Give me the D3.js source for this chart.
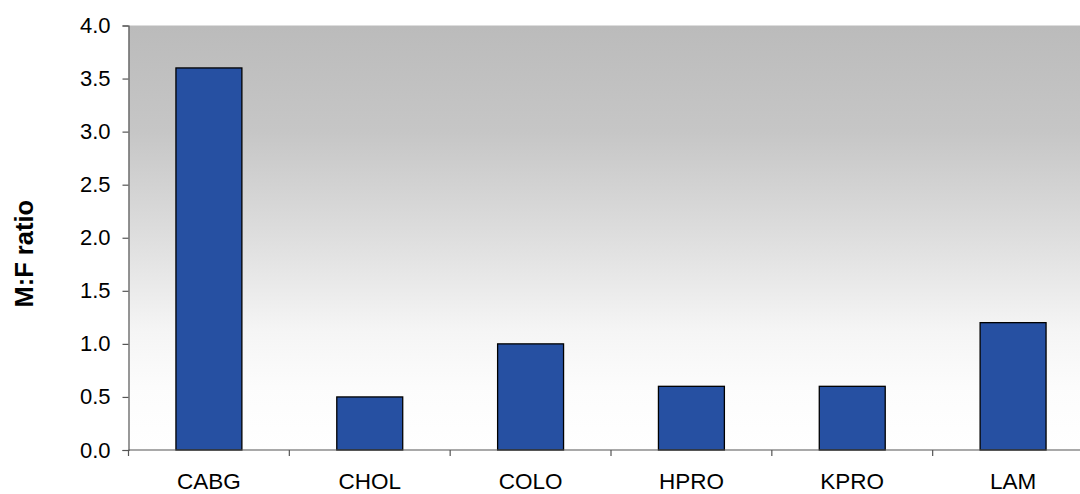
<!DOCTYPE html>
<html>
<head>
<meta charset="utf-8">
<script src="https://cdn.jsdelivr.net/npm/d3@7"></script>
<style>
  html, body { margin: 0; padding: 0; background: #ffffff; }
  svg { display: block; font-family: "Liberation Sans", Arial, sans-serif; }
</style>
</head>
<body>
<svg id="chart" width="1080" height="494"></svg>
<script>
// Procedures and their male:female ratios
const categories = ["CABG", "CHOL", "COLO", "HPRO", "KPRO", "LAM"];
const ratios = [3.6, 0.5, 1.0, 0.6, 0.6, 1.2];
const yTicks = [0, 0.5, 1.0, 1.5, 2.0, 2.5, 3.0, 3.5, 4.0];
const yTitle = "M:F ratio";

const svg = d3.select("#chart");
const margin = { left: 128.5, top: 25.5, bottom: 44 };
const plotWidth = 965;            // plot runs past the right edge of the page
const plotBottom = 494 - margin.bottom;

const x = d3.scaleBand()
  .domain(categories)
  .range([margin.left, margin.left + plotWidth])
  .paddingInner(0.59)
  .paddingOuter(0.295);

const y = d3.scaleLinear()
  .domain([0, 4])
  .range([plotBottom, margin.top]);

// Vertical grey-to-white fill behind the bars
const defs = svg.append("defs");
const grad = defs.append("linearGradient")
  .attr("id", "plotFill")
  .attr("x1", 0).attr("y1", 0).attr("x2", 0).attr("y2", 1);
[[0, "#bbbbbb"], [0.25, "#c6c6c6"], [0.5, "#dedede"], [0.72, "#f5f5f5"], [0.85, "#fcfcfc"], [1, "#ffffff"]]
  .forEach(([o, c]) => grad.append("stop").attr("offset", o).attr("stop-color", c));

svg.append("rect")
  .attr("x", margin.left)
  .attr("y", y(4))
  .attr("width", plotWidth)
  .attr("height", y(0) - y(4))
  .attr("fill", "url(#plotFill)");

// Bars
svg.append("g")
  .selectAll("rect")
  .data(categories.map((c, i) => ({ c, v: ratios[i] })))
  .join("rect")
  .attr("x", d => x(d.c))
  .attr("y", d => y(d.v))
  .attr("width", x.bandwidth())
  .attr("height", d => y(0) - y(d.v))
  .attr("fill", "#2650a2")
  .attr("stroke", "#000000")
  .attr("stroke-width", 1.3);

// Y axis
const yAxis = svg.append("g")
  .attr("transform", `translate(${margin.left},0)`)
  .call(d3.axisLeft(y).tickValues(yTicks).tickFormat(d3.format(".1f")).tickSize(6).tickPadding(12));
yAxis.select(".domain").attr("stroke", "#555555").attr("stroke-width", 1.2);
yAxis.selectAll(".tick line").attr("stroke", "#555555").attr("stroke-width", 1.2);
yAxis.selectAll(".tick text")
  .attr("font-size", 22)
  .attr("font-family", "Liberation Sans, Arial, sans-serif")
  .attr("fill", "#000000");

// X axis: ticks sit on the category boundaries
const xAxisG = svg.append("g").attr("transform", `translate(0,${plotBottom})`);
xAxisG.append("line")
  .attr("x1", margin.left).attr("x2", margin.left + plotWidth)
  .attr("y1", 0).attr("y2", 0)
  .attr("stroke", "#555555").attr("stroke-width", 1.2);
const step = x.step();
const boundaries = d3.range(categories.length + 1).map(i => margin.left + i * step);
xAxisG.selectAll("line.tick")
  .data(boundaries)
  .join("line")
  .attr("class", "tick")
  .attr("x1", d => d).attr("x2", d => d)
  .attr("y1", 0).attr("y2", 6)
  .attr("stroke", "#555555").attr("stroke-width", 1.2);
xAxisG.selectAll("text")
  .data(categories)
  .join("text")
  .attr("x", d => x(d) + x.bandwidth() / 2)
  .attr("y", 39)
  .attr("text-anchor", "middle")
  .attr("font-size", 22.5)
  .attr("fill", "#000000")
  .text(d => d);

// Y axis title
svg.append("text")
  .attr("transform", `translate(33,${(y(0) + y(4)) / 2 + 16}) rotate(-90)`)
  .attr("text-anchor", "middle")
  .attr("font-size", 25.5)
  .attr("font-weight", "bold")
  .attr("fill", "#000000")
  .text(yTitle);
</script>
</body>
</html>
